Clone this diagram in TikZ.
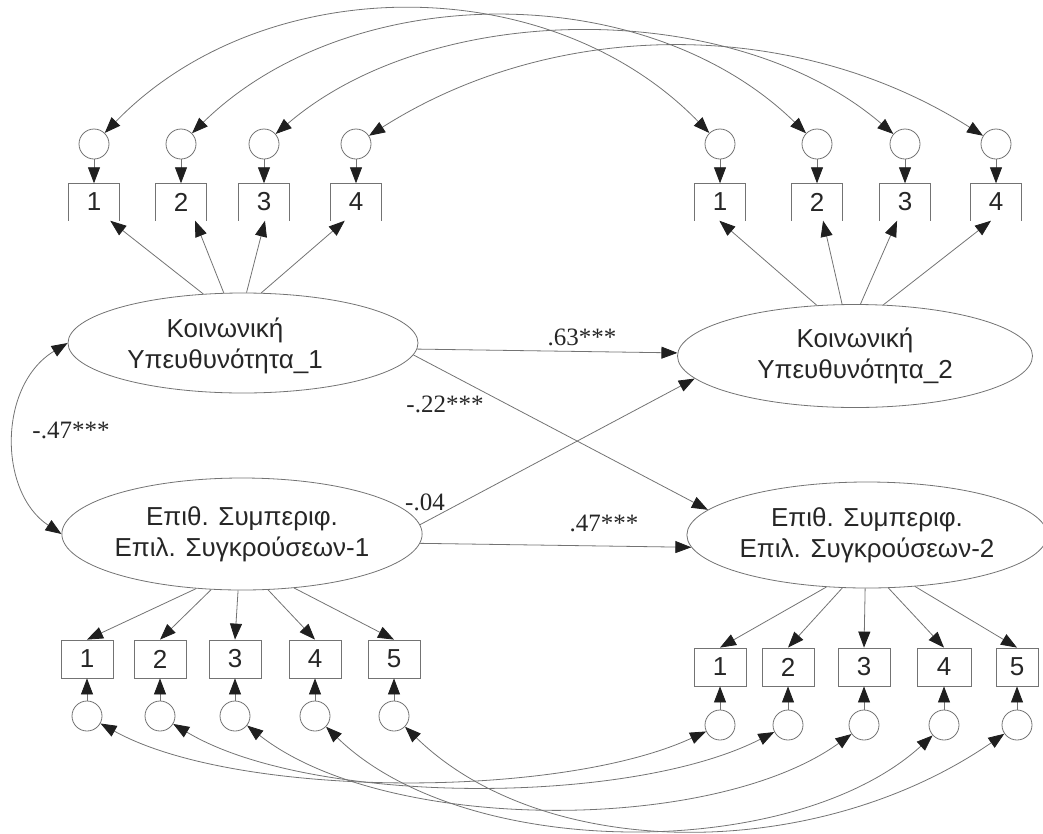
\documentclass[tikz,border=0pt]{standalone}
\usepackage{fontspec}
\setmainfont{Liberation Serif}
\setsansfont{Liberation Sans}
\usetikzlibrary{shapes.geometric,arrows.meta}
\begin{document}
\begin{tikzpicture}[x=1pt,y=-1pt,
  ln/.style={draw=black!55, line width=0.8pt},
  arr/.style={ln, -{Triangle[length=16pt,width=12pt,black!88]}},
  darr/.style={ln, {Triangle[length=16pt,width=12pt,black!88]}-{Triangle[length=16pt,width=12pt,black!88]}},
  lat/.style={ellipse, draw=black!55, line width=0.8pt, minimum width=350pt, minimum height=100pt, inner sep=0pt, font=\sffamily\fontsize{26}{31}\selectfont, align=center, text=black!85},
  obs/.style={rectangle, draw=black!55, line width=0.8pt, minimum width=52pt, minimum height=38pt, inner sep=0pt, font=\sffamily\fontsize{26}{30}\selectfont, text=black!85},
  obsopen/.style={rectangle, minimum width=51pt, minimum height=37pt, inner sep=0pt, font=\sffamily\fontsize{26}{30}\selectfont, text=black!85},
  err/.style={circle, draw=black!55, line width=0.8pt, minimum size=30pt, inner sep=0pt},
  coef/.style={font=\fontsize{25}{27}\selectfont, text=black!85, inner sep=0pt}
]
\useasboundingbox (0,0) rectangle (1043,833);

% latent variables
\node[lat] (E1) at (243,343) {\hspace*{-36pt}\rule{0pt}{26pt}Κοινωνική\\\hspace*{-36pt}Υπευθυνότητα\_1};
\node[lat, minimum width=355pt, minimum height=103pt] (E2) at (855,356) {Κοινωνική\\Υπευθυνότητα\_2};
\node[lat, minimum height=112pt] (E3) at (242,534) {Επιθ. Συμπεριφ.\\Επιλ. Συγκρούσεων-1};
\node[lat, minimum width=352pt, minimum height=106pt] (E4) at (867,535) {Επιθ. Συμπεριφ.\\Επιλ. Συγκρούσεων-2};

% top-left indicators (open bottom)
\foreach \n/\x in {1/94,2/181,3/264,4/356}{
  \node[obsopen] (tL\n) at (\x,202) {\n};
  \draw[ln] (tL\n.south west) -- (tL\n.north west) -- (tL\n.north east) -- (tL\n.south east);
  \node[err] (cL\n) at (\x,144) {};
  \draw[arr] (cL\n) -- (tL\n);
}
% top-right indicators
\foreach \n/\x in {1/720,2/817,3/905,4/996}{
  \node[obsopen] (tR\n) at (\x,202) {\n};
  \draw[ln] (tR\n.south west) -- (tR\n.north west) -- (tR\n.north east) -- (tR\n.south east);
  \node[err] (cR\n) at (\x,144) {};
  \draw[arr] (cR\n) -- (tR\n);
}
% bottom-left indicators
\foreach \n/\x in {1/87,2/160,3/235,4/315,5/394}{
  \node[obs] (bL\n) at (\x,659) {\n};
  \node[err] (dL\n) at (\x,716) {};
  \draw[arr] (dL\n) -- (bL\n);
}
% bottom-right indicators
\foreach \n/\x/\w in {1/720/52,2/788/52,3/864/52,4/944/54,5/1017/42}{
  \node[obs, minimum width=\w pt] (bR\n) at (\x,667) {\n};
  \node[err] (dR\n) at (\x,725) {};
  \draw[arr] (dR\n) -- (bR\n);
}

% loadings
\draw[arr] (E1.129) -- (tL1.311);
\draw[arr] (E1.111) -- (tL2.307);
\draw[arr] (E1.86) -- (tL3.273);
\draw[arr] (E1.70) -- (tL4.239);
\draw[arr] (E2.127) -- (tR1.268);
\draw[arr] (E2.104) -- (tR2.288);
\draw[arr] (E2.84) -- (tR3.247);
\draw[arr] (E2.61) -- (tR4.255);
\draw[arr] (E3.230) -- (bL1.north);
\draw[arr] (E3.241) -- (bL2.north);
\draw[arr] (E3.266) -- (bL3.north);
\draw[arr] (E3.295) -- (bL4.north);
\draw[arr] (E3.314) -- (bL5.north);
\draw[arr] (E4.232) -- (bR1.north);
\draw[arr] (E4.245) -- (bR2.north);
\draw[arr] (E4.268) -- (bR3.north);
\draw[arr] (E4.292) -- (bR4.north);
\draw[arr] (E4.313) -- (bR5.north);

% structural paths
\draw[arr] (E1.358) -- (E2.179);
\draw[arr] (E1.356) -- (E4.171);
\draw[arr] (E3.3) -- (E2.188);
\draw[arr] (E3.357) -- (E4.184);
\draw[darr] (E1.west) .. controls (-2,385) and (-2,492) .. (E3.west);

% top error covariances
\draw[darr] (cL1) .. controls (264,-31) and (550,-31) .. (cR1);
\draw[darr] (cL2) .. controls (351,-22) and (647,-22) .. (cR2);
\draw[darr] (cL3) .. controls (434,-2) and (735,-2) .. (cR3);
\draw[darr] (cL4) .. controls (556,17) and (796,17) .. (cR4);

% bottom error covariances
\draw[darr] (dL1) .. controls (237,799) and (560,799) .. (dR1);
\draw[darr] (dL2) .. controls (310,806) and (630,806) .. (dR2);
\draw[darr] (dL3) .. controls (385,834) and (713,834) .. (dR3);
\draw[darr] (dL4) .. controls (465,862) and (794,862) .. (dR4);
\draw[darr] (dL5) .. controls (545,863) and (817,863) .. (dR5);

% coefficients
\node[coef] (c63) at (582,337) {.63***};
\node[coef] (c22) at (445,404) {-.22***};
\node[coef] (c04) at (425,502) {-.04};
\node[coef] (c47) at (604,523) {.47***};
\node[coef] (cm47) at (71,430) {-.47***};
\end{tikzpicture}
\end{document}
